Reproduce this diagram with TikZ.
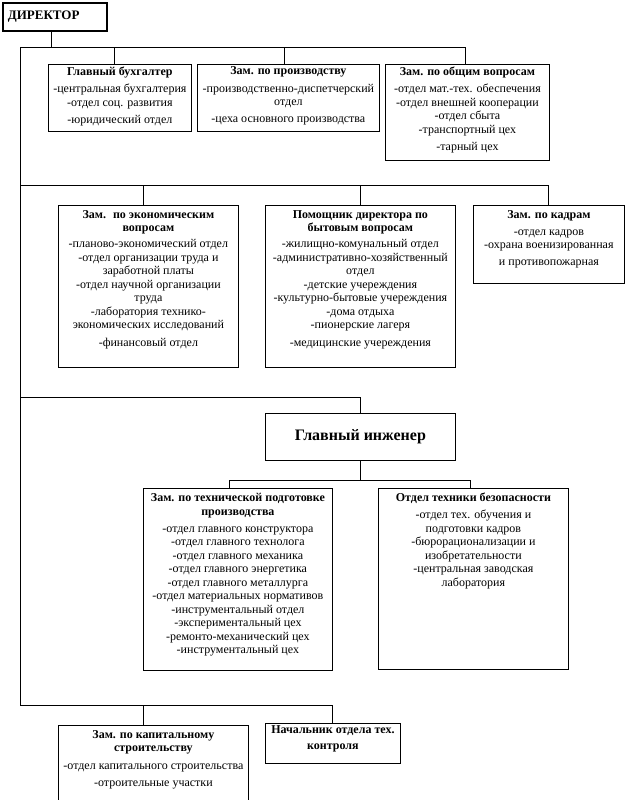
\documentclass[tikz,border=0pt]{standalone}
\usepackage{fontspec}
\setmainfont{Liberation Serif}
\usetikzlibrary{positioning, calc}

% top-aligned text block inside a box
\newcommand{\unitbox}[3]{\parbox[c][#2][t]{#1}{\centering #3}}

\begin{document}
\begin{tikzpicture}[
    x=1pt, y=-1pt,
    font=\fontsize{12}{13.5}\selectfont,
    unit/.style={draw, line width=0.8pt, anchor=north west, inner xsep=2pt, inner ysep=5pt},
    toprow/.style={unit, inner ysep=2.5pt},
    chief/.style={draw, line width=1.8pt, anchor=north west, inner xsep=5pt, text width=94pt, minimum height=28pt, align=left, font=\fontsize{13}{15}\selectfont\bfseries},
    link/.style={line width=1pt}
]
    \useasboundingbox (0,0) rectangle (625,800);

    % Director
    \node[chief] (dir) at (2,2) {ДИРЕКТОР};

    % First row
    \node[toprow] (buh) at (48,64) {\unitbox{139pt}{62pt}{{\bfseries Главный бухгалтер}\\[4pt]
        -центральная бухгалтерия\\ -отдел соц. развития\\[3.5pt] -юридический отдел}};
    \node[toprow] (proizv) at (197,64) {\unitbox{178pt}{62pt}{{\bfseries Зам. по производству}\\[4pt]
        -производственно-диспетчерский\\ отдел\\[3.5pt] -цеха основного производства}};
    \node[toprow] (obsh) at (385,64) {\unitbox{160pt}{91pt}{{\bfseries Зам. по общим вопросам}\\[4pt]
        -отдел мат.-тех. обеспечения\\ -отдел внешней кооперации\\ -отдел сбыта\\
        -транспортный цех\\[4pt] -тарный цех}};

    % Second row
    \node[unit] (econ) at (58,205) {\unitbox{176pt}{152pt}{{\bfseries Зам.~ по экономическим\\ вопросам}\\[2.5pt]
        -планово-экономический отдел\\ -отдел организации труда и\\ заработной платы\\
        -отдел научной организации\\ труда\\ -лаборатория технико-\\ экономических исследований\\[4pt]
        -финансовый отдел}};
    \node[unit] (pom) at (265,205) {\unitbox{186pt}{152pt}{{\bfseries Помощник директора по\\ бытовым вопросам}\\[2.5pt]
        -жилищно-комунальный отдел\\ -административно-хозяйственный\\ отдел\\
        -детские учереждения\\ -культурно-бытовые учереждения\\ -дома отдыха\\
        -пионерские лагеря\\[4pt] -медицинские учереждения}};
    \node[unit] (kadr) at (473,205) {\unitbox{147pt}{68pt}{{\bfseries Зам. по кадрам}\\[3.5pt]
        -отдел кадров\\ -охрана военизированная\\[3.5pt] и противопожарная}};

    % Chief engineer
    \node[unit, minimum width=190pt, minimum height=47pt, font=\fontsize{16}{18}\selectfont\bfseries] (ing) at (265,413) {Главный инженер};

    \node[unit] (tech) at (143,488) {\unitbox{185pt}{172pt}{{\bfseries Зам. по технической подготовке\\ производства}\\[3.5pt]
        -отдел главного конструктора\\ -отдел главного технолога\\ -отдел главного механика\\
        -отдел главного энергетика\\ -отдел главного металлурга\\ -отдел материальных нормативов\\
        -инструментальный отдел\\ -экспериментальный цех\\ -ремонто-механический цех\\
        -инструментальный цех}};
    \node[unit] (bez) at (378,488) {\unitbox{186pt}{171pt}{{\bfseries Отдел техники безопасности}\\[3.5pt]
        -отдел тех. обучения и\\ подготовки кадров\\ -бюрорационализации и\\
        изобретательности\\ -центральная заводская\\ лаборатория}};

    % Bottom row
    \node[unit] (kap) at (58,725) {\unitbox{186pt}{70pt}{{\bfseries Зам. по капитальному\\ строительству}\\[4pt]
        -отдел капитального строительства\\[3.5pt] -отроительные участки}};
    \node[unit, inner ysep=2.5pt] (nach) at (265,723) {\unitbox{131pt}{35pt}{\fontsize{12}{16}\selectfont\bfseries Начальник отдела тех.\\ контроля}};

    % Connections
    \coordinate (bus1) at (20,48);
    \coordinate (bus2) at (20,185);
    \coordinate (bus3) at (20,397);
    \coordinate (bus4) at (20,705);
    \coordinate (split) at ([yshift=-20pt]ing.south);

    \draw[link] ([xshift=-3pt]dir.south) -- ([xshift=-3pt]dir.south |- bus1);
    \draw[link] (bus1) -- (bus4);
    \draw[link] (bus1) -| ([xshift=-2pt]obsh.north);
    \draw[link] ([xshift=-5pt]buh.north) -- ([xshift=-5pt]buh.north |- bus1);
    \draw[link] ([xshift=-4pt]proizv.north) -- ([xshift=-4pt]proizv.north |- bus1);

    \draw[link] (bus2) -| (kadr.north);
    \draw[link] ([xshift=-5pt]econ.north) -- ([xshift=-5pt]econ.north |- bus2);
    \draw[link] (pom.north) -- (pom.north |- bus2);

    \draw[link] (bus3) -| (ing.north);
    \draw[link] (ing.south) -- (split);
    \draw[link] ([xshift=-8pt]tech.north) |- (split) -| ([xshift=-3pt]bez.north);

    \draw[link] (bus4) -| (nach.north);
    \draw[link] ([xshift=-10pt]kap.north) -- ([xshift=-10pt]kap.north |- bus4);
\end{tikzpicture}
\end{document}
